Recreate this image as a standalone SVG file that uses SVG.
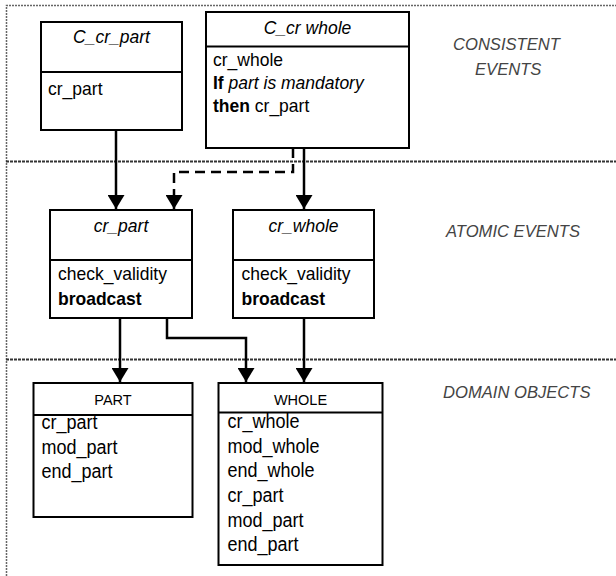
<svg xmlns="http://www.w3.org/2000/svg" width="616" height="576" viewBox="0 0 616 576">
<style>
.box{fill:#fff;stroke:#000;stroke-width:2}
.sep{stroke:#000;stroke-width:2}
.t{font-family:"Liberation Sans",Arial,sans-serif;font-size:19px;fill:#000}
.d{font-size:19.5px}
.h{font-style:italic;text-anchor:middle}
.cap{font-family:"Liberation Sans",Arial,sans-serif;font-size:14.5px;text-anchor:middle;fill:#000}
.b{font-weight:bold}
.i{font-style:italic}
.lbl{font-family:"Liberation Sans",Arial,sans-serif;font-size:16.6px;font-style:italic;fill:#444}
.frame{stroke:#666;stroke-width:1.5;stroke-dasharray:2 1;fill:none}
.div{stroke:#333;stroke-width:2;stroke-dasharray:3 1;fill:none}
.c{fill:none;stroke:#000;stroke-width:2.5}
.dash{stroke-dasharray:10 6}
</style>
<defs>
<marker id="ah" viewBox="0 0 14 17" refX="14" refY="8.5" markerWidth="14" markerHeight="17" orient="auto" markerUnits="userSpaceOnUse">
<path d="M0,0 L14,8.5 L0,17 z" fill="#000"/>
</marker>
</defs>
<g id="frame">
<path class="frame" d="M6.5,576 V5.5 H616"/>
<path class="div" d="M6,161.5 H616"/>
<path class="div" d="M6,359.5 H616"/>
</g>
<g id="labels">
<text class="lbl" x="453" y="50">CONSISTENT</text>
<text class="lbl" x="475" y="75">EVENTS</text>
<text class="lbl" x="446" y="237">ATOMIC EVENTS</text>
<text class="lbl" x="443" y="398">DOMAIN OBJECTS</text>
</g>
<g id="C_cr_part">
<rect class="box" x="41" y="22" width="141" height="108"/>
<line class="sep" x1="41" y1="72" x2="182" y2="72"/>
<text class="t h" x="111.5" y="43" textLength="76.8" lengthAdjust="spacingAndGlyphs">C_cr_part</text>
<text class="t" x="48" y="95" textLength="54.5" lengthAdjust="spacingAndGlyphs">cr_part</text>
</g>
<g id="C_cr_whole">
<rect class="box" x="206" y="12" width="203" height="136"/>
<line class="sep" x1="206" y1="46.5" x2="409" y2="46.5"/>
<text class="t h" x="307.5" y="34" textLength="87.5" lengthAdjust="spacingAndGlyphs">C_cr whole</text>
<text class="t" x="213" y="66" textLength="70" lengthAdjust="spacingAndGlyphs">cr_whole</text>
<text class="t" x="213" y="89" textLength="150.7" lengthAdjust="spacingAndGlyphs"><tspan class="b">If</tspan> <tspan class="i">part is mandatory</tspan></text>
<text class="t" x="213" y="112" textLength="96.3" lengthAdjust="spacingAndGlyphs"><tspan class="b">then</tspan> cr_part</text>
</g>
<g id="cr_part">
<rect class="box" x="50" y="210" width="142" height="108"/>
<line class="sep" x1="50" y1="260" x2="192" y2="260"/>
<text class="t h" x="121" y="232" textLength="54.5" lengthAdjust="spacingAndGlyphs">cr_part</text>
<text class="t" x="58" y="280" textLength="108.9" lengthAdjust="spacingAndGlyphs">check_validity</text>
<text class="t b" x="58" y="305" textLength="83.6" lengthAdjust="spacingAndGlyphs">broadcast</text>
</g>
<g id="cr_whole">
<rect class="box" x="233" y="210" width="141" height="108"/>
<line class="sep" x1="233" y1="260" x2="374" y2="260"/>
<text class="t h" x="303.5" y="232" textLength="70" lengthAdjust="spacingAndGlyphs">cr_whole</text>
<text class="t" x="241.5" y="280" textLength="108.9" lengthAdjust="spacingAndGlyphs">check_validity</text>
<text class="t b" x="241.5" y="305" textLength="83.6" lengthAdjust="spacingAndGlyphs">broadcast</text>
</g>
<g id="PART">
<rect class="box" x="33.5" y="383" width="159" height="134"/>
<line class="sep" x1="33.5" y1="415" x2="192.5" y2="415"/>
<text class="cap" x="113" y="405">PART</text>
<text class="t d" x="41.5" y="429" textLength="56" lengthAdjust="spacingAndGlyphs">cr_part</text>
<text class="t d" x="41.5" y="453.5" textLength="76" lengthAdjust="spacingAndGlyphs">mod_part</text>
<text class="t d" x="41.5" y="477.5" textLength="71" lengthAdjust="spacingAndGlyphs">end_part</text>
</g>
<g id="WHOLE">
<rect class="box" x="218.5" y="383" width="164" height="182"/>
<line class="sep" x1="218.5" y1="412.5" x2="382.5" y2="412.5"/>
<text class="cap" x="300.5" y="405">WHOLE</text>
<text class="t d" x="227.5" y="428" textLength="72" lengthAdjust="spacingAndGlyphs">cr_whole</text>
<text class="t d" x="227.5" y="452.7" textLength="92" lengthAdjust="spacingAndGlyphs">mod_whole</text>
<text class="t d" x="227.5" y="477.4" textLength="87" lengthAdjust="spacingAndGlyphs">end_whole</text>
<text class="t d" x="227.5" y="502" textLength="56" lengthAdjust="spacingAndGlyphs">cr_part</text>
<text class="t d" x="227.5" y="526.7" textLength="76" lengthAdjust="spacingAndGlyphs">mod_part</text>
<text class="t d" x="227.5" y="551.4" textLength="71" lengthAdjust="spacingAndGlyphs">end_part</text>
</g>
<g id="connectors">
<path class="c" d="M116,130 V209" marker-end="url(#ah)"/>
<path class="c dash" d="M293,148 V172 H174 V209" marker-end="url(#ah)"/>
<path class="c" d="M304,148 V209" marker-end="url(#ah)"/>
<path class="c" d="M120,318 V382" marker-end="url(#ah)"/>
<path class="c" d="M167,318 V338 H246 V382" marker-end="url(#ah)"/>
<path class="c" d="M304,318 V382" marker-end="url(#ah)"/>
</g>
</svg>
